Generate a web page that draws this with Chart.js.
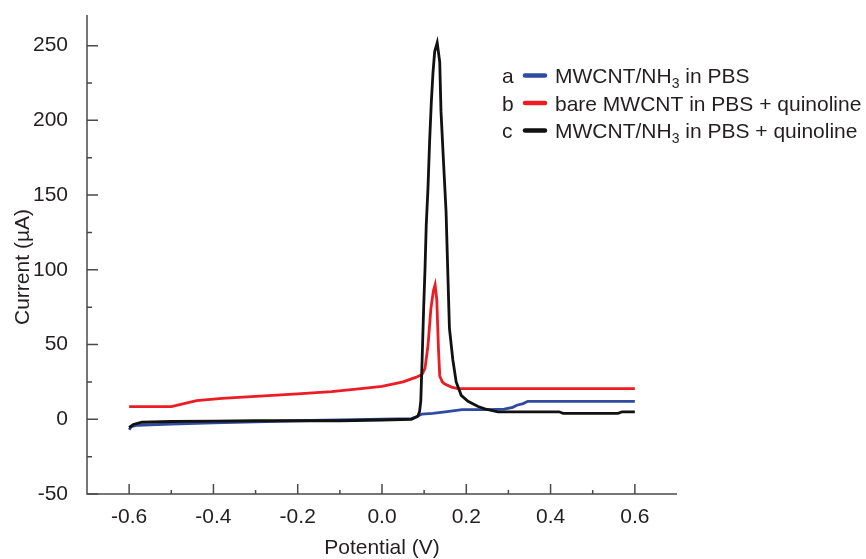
<!DOCTYPE html>
<html>
<head>
<meta charset="utf-8">
<script src="https://cdn.jsdelivr.net/npm/chart.js@4/dist/chart.umd.min.js"></script>
<style>
  html, body { margin: 0; background: #fff; }
  canvas { display: block; }
</style>
</head>
<body>
<canvas id="chart" width="866" height="559"></canvas>
<script>
// ── Data ───────────────────────────────────────────────────────────────────
const xTicks = [-0.6, -0.4, -0.2, 0.0, 0.2, 0.4, 0.6];
const yTicks = [-50, 0, 50, 100, 150, 200, 250];
const xMinorTicks = [-0.5, -0.3, -0.1, 0.1, 0.3, 0.5];
const yMinorTicks = [-25, 25, 75, 125, 175, 225];

// a: MWCNT/NH3 in PBS
const potentialA = [-0.6, -0.595, -0.58, -0.5, -0.4, -0.3, -0.2, -0.1, 0.0, 0.07, 0.08, 0.095,
  0.12, 0.15, 0.19, 0.25, 0.29, 0.31, 0.32, 0.335, 0.346, 0.6];
const currentA = [-7, -5, -4, -3.2, -2.4, -1.8, -1, -0.5, 0, 0.5, 1.5, 3.5,
  4, 5, 6.5, 6.5, 6.8, 8, 9.4, 10.5, 12, 12];

// b: bare MWCNT in PBS + quinoline
const potentialB = [-0.6, -0.5, -0.47, -0.44, -0.38, -0.29, -0.2, -0.12, -0.05, 0.0, 0.05, 0.08,
  0.095, 0.102, 0.109, 0.116, 0.122, 0.126, 0.13, 0.134, 0.137, 0.143, 0.149, 0.165, 0.18, 0.6];
const currentB = [8.5, 8.5, 10.5, 12.5, 14, 15.5, 17, 18.5, 20.5, 22, 25, 28,
  30, 34, 49, 74, 86, 90, 80, 47, 29, 25, 23.5, 21.5, 20.5, 20.5];

// c: MWCNT/NH3 in PBS + quinoline
const potentialC = [-0.6, -0.59, -0.57, -0.5, -0.4, -0.3, -0.2, -0.1, 0.0, 0.07, 0.085, 0.089,
  0.092, 0.095, 0.099, 0.102, 0.105, 0.109, 0.113, 0.117, 0.121, 0.125, 0.131, 0.137, 0.14,
  0.146, 0.152, 0.157, 0.16, 0.168, 0.176, 0.188, 0.204, 0.228, 0.244, 0.275, 0.42, 0.43,
  0.56, 0.57, 0.6];
const currentC = [-5.5, -3.5, -2, -1.5, -1.3, -1, -1, -1, -0.5, 0, 2, 5,
  12, 38, 76, 100, 130, 154, 186, 212, 232, 246, 252, 239, 206,
  172, 139, 90, 61, 40, 25, 16, 12, 8.5, 7, 5, 5, 4,
  4, 5, 5];

const legendRows = [
  { key: "a", color: "#2f4a9e", parts: [["MWCNT/NH", 0], ["3", 1], [" in PBS", 0]] },
  { key: "b", color: "#ed1c24", parts: [["bare MWCNT in PBS + quinoline", 0]] },
  { key: "c", color: "#111111", parts: [["MWCNT/NH", 0], ["3", 1], [" in PBS + quinoline", 0]] },
];

// ── Styling ────────────────────────────────────────────────────────────────
const FONT = '"Liberation Sans", Arial, sans-serif';
const TEXT = "#231f20";
const AXIS = "#4a4a4a";

const toPoints = (xs, ys) => xs.map((x, i) => ({ x, y: ys[i] }));

function series(label, xs, ys, color) {
  return {
    label,
    data: toPoints(xs, ys),
    showLine: true,
    borderColor: color,
    backgroundColor: color,
    borderWidth: 2.8,
    pointRadius: 0,
    tension: 0,
  };
}

// no extra label padding around the plot box
function noPad(s) {
  s.paddingTop = 0; s.paddingBottom = 0; s.paddingLeft = 0; s.paddingRight = 0;
}

// ── Axes, inward ticks, titles and legend drawn on top ─────────────────────
const framePlugin = {
  id: "frame",
  afterDraw(chart) {
    const { ctx, chartArea: a, scales: { x, y } } = chart;
    ctx.save();
    ctx.strokeStyle = AXIS;
    ctx.lineWidth = 1.5;

    // axis lines
    ctx.beginPath();
    ctx.moveTo(a.left, a.top);
    ctx.lineTo(a.left, a.bottom);
    ctx.lineTo(a.right, a.bottom);
    ctx.stroke();

    // ticks pointing into the plot
    ctx.beginPath();
    yTicks.forEach((v) => { const p = y.getPixelForValue(v); ctx.moveTo(a.left, p); ctx.lineTo(a.left + 11, p); });
    yMinorTicks.forEach((v) => { const p = y.getPixelForValue(v); ctx.moveTo(a.left, p); ctx.lineTo(a.left + 5, p); });
    xTicks.forEach((v) => { const p = x.getPixelForValue(v); ctx.moveTo(p, a.bottom); ctx.lineTo(p, a.bottom - 10); });
    xMinorTicks.forEach((v) => { const p = x.getPixelForValue(v); ctx.moveTo(p, a.bottom); ctx.lineTo(p, a.bottom - 4); });
    ctx.stroke();

    // axis titles
    ctx.fillStyle = TEXT;
    ctx.font = `21px ${FONT}`;
    ctx.textAlign = "center";
    ctx.textBaseline = "alphabetic";
    ctx.fillText("Potential (V)", (a.left + a.right) / 2, 554);
    ctx.save();
    ctx.translate(29, 267);
    ctx.rotate(-Math.PI / 2);
    ctx.fillText("Current (\u00b5A)", 0, 0);
    ctx.restore();

    // legend
    ctx.textAlign = "left";
    legendRows.forEach((row, i) => {
      const base = 83 + i * 27.5;
      ctx.font = `21px ${FONT}`;
      ctx.fillStyle = TEXT;
      ctx.fillText(row.key, 502, base);
      ctx.strokeStyle = row.color;
      ctx.lineWidth = 4.5;
      ctx.lineCap = "round";
      ctx.beginPath();
      ctx.moveTo(525, base - 7.5);
      ctx.lineTo(545, base - 7.5);
      ctx.stroke();
      let tx = 555;
      row.parts.forEach(([txt, sub]) => {
        ctx.font = sub ? `14px ${FONT}` : `21px ${FONT}`;
        ctx.fillText(txt, tx, sub ? base + 5 : base);
        tx += ctx.measureText(txt).width;
      });
    });
    ctx.restore();
  },
};

new Chart(document.getElementById("chart"), {
  type: "scatter",
  data: {
    datasets: [
      series("MWCNT/NH3 in PBS + quinoline", potentialC, currentC, legendRows[2].color),
      series("bare MWCNT in PBS + quinoline", potentialB, currentB, legendRows[1].color),
      series("MWCNT/NH3 in PBS", potentialA, currentA, legendRows[0].color),
    ],
  },
  options: {
    responsive: false,
    animation: false,
    layout: { padding: { top: 15, right: 189, left: 0, bottom: 0 } },
    plugins: { legend: { display: false }, tooltip: { enabled: false } },
    scales: {
      x: {
        type: "linear",
        min: -0.7,
        max: 0.7,
        afterFit(s) { s.height = 65; noPad(s); },
        afterBuildTicks(s) { s.ticks = xTicks.map((v) => ({ value: v })); },
        grid: { display: false },
        border: { display: false },
        ticks: {
          font: { family: FONT, size: 21 },
          color: TEXT,
          padding: 3,
          maxRotation: 0,
          autoSkip: false,
          callback: (v) => Number(v).toFixed(1),
        },
      },
      y: {
        type: "linear",
        min: -50,
        max: 270.5,
        afterFit(s) { s.width = 87; noPad(s); },
        afterBuildTicks(s) { s.ticks = yTicks.map((v) => ({ value: v })); },
        grid: { display: false },
        border: { display: false },
        ticks: {
          font: { family: FONT, size: 21 },
          color: TEXT,
          padding: 11,
          autoSkip: false,
          callback: (v) => String(v),
        },
      },
    },
  },
  plugins: [framePlugin],
});
</script>
</body>
</html>
